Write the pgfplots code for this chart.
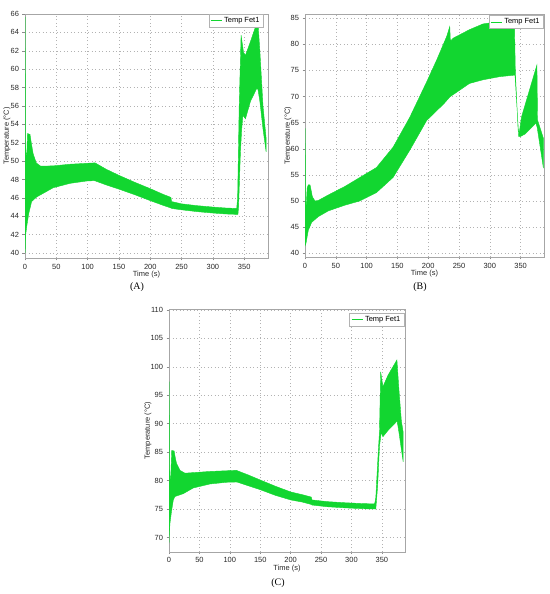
\documentclass[border=0pt]{standalone}
\usepackage{pgfplots}
\pgfplotsset{compat=1.18}
\usepackage{fontspec}
\setmainfont{Liberation Sans}
\newfontfamily\capfont{Liberation Serif}
\definecolor{fetgreen}{RGB}{18,214,48}
\pgfplotsset{
  fetstyle/.style={
    scale only axis,
    xmin=0, xmax=388,
    xtick={0,50,...,350},
    tick align=outside,
    major tick length=2.5bp,
    tick pos=left,
    axis line style={draw=black!35},
    every tick/.style={draw=black!45},
    grid=major,
    grid style={draw=black!30, dash pattern=on 0.7bp off 2.8bp},
    ticklabel style={font=\fontsize{7.5}{8}\selectfont, text=black!85},
    /pgf/number format/assume math mode=true,
    label style={font=\fontsize{7.5}{8}\selectfont, text=black!85},
    xlabel={Time (s)},
    ylabel={Temperature (°C)},
    legend style={draw=black!30, fill=white, font=\fontsize{7.5}{8}\selectfont,
      inner xsep=1.5bp, inner ysep=1bp, row sep=0pt, legend cell align=left, anchor=north east},
  }
}
\newcommand{\fettitle}[1]{\node[font=\fontsize{7.5}{8}\selectfont, text=black!85, inner sep=0pt] at (axis description cs:0.5,#1) {FET1};}
\begin{document}
\begin{tikzpicture}
\path (0,0) rectangle (550bp,594bp);
% ---------- (A) ----------
\begin{axis}[fetstyle,
  at={(25bp,336bp)}, anchor=south west,
  width=243bp, height=244bp,
  ymin=39.46, ymax=66,
  ytick={40,42,...,66},
  xlabel style={at={(axis description cs:0.5,-0.066)}, anchor=center},
  ylabel style={at={(axis description cs:-0.074,0.5)}, anchor=center},
  legend style={at={(axis description cs:0.98,0.999)}},
]
\addplot[draw=fetgreen, fill=fetgreen, line width=0.4pt, forget plot] coordinates {
(0,40) (0.3,65.7) (0.7,52) (1.5,50.5) (3,51) (4,53) (8,52.9) (10,52.0) (13,50.8) (18,49.8) (25,49.45) (45,49.48) (72,49.66) (110,49.8) (112,49.8) (130,49.1) (150,48.45) (175,47.7) (200,47.0) (220,46.4) (233,46.05) (234,45.6) (250,45.35) (275,45.15) (300,45.0) (320,44.9) (338,44.85) (339.5,46) (342,56) (345,63.7) (349,61.8) (352,61.5) (360,63.0) (370,65.0) (372,65.0) (375,62) (380,56) (385,52.5)
(385,51.0) (380,53.5) (375,56.5) (372,57.8) (370,57.9) (360,56.5) (352,54.6) (348,55.0) (346,53.5) (344,51) (341,45) (340,44.2) (320,44.25) (300,44.35) (275,44.5) (250,44.7) (234,44.85) (233,44.9) (220,45.2) (200,45.7) (175,46.35) (150,46.95) (130,47.4) (112,47.85) (110,47.87) (98,47.83) (72,47.58) (45,47.1) (18.6,46.1) (10.6,45.6) (6,44.3) (3,43) (1,41.95) (0.5,40.5)
} -- cycle;
\addlegendimage{legend image code/.code={\draw[fetgreen, line width=0.9pt] (0bp,0bp) -- (11bp,0bp);}}
\addlegendentry{Temp Fet1}
\fettitle{1.033}
\end{axis}
% ---------- (B) ----------
\begin{axis}[fetstyle,
  at={(305bp,337bp)}, anchor=south west,
  width=239bp, height=243bp,
  ymin=39.27, ymax=85.8,
  ytick={40,45,...,85},
  xlabel style={at={(axis description cs:0.5,-0.07)}, anchor=center},
  ylabel style={at={(axis description cs:-0.071,0.5)}, anchor=center},
  legend style={at={(axis description cs:0.997,0.994)}},
]
\addplot[draw=fetgreen, fill=fetgreen, line width=0.4pt, forget plot] coordinates {
(0,42) (0.3,63.9) (0.8,50) (2,49) (3.5,52.5) (5.4,53.1) (8.1,53.1) (9,52.6) (12,50.8) (16.2,50.0) (21.6,50.1) (37.9,51.15) (65,52.8) (89,54.5) (116,56.4) (143,60.3) (170,66.0) (197.5,72.8) (213.8,77.0) (230,81.5) (235,83.4) (236,80.6) (241,81.2) (267,82.8) (289,83.9) (316,84.35) (340,84.1) (341.5,74.5) (346,63.5) (348,63.2) (351.5,66.1) (376.5,76.05) (377.5,65.5) (387,62)
(387,56.3) (377,64.0) (375,64.9) (357,62.8) (349,62.3) (347,62.3) (341,74.0) (340.5,74.1) (316,73.8) (289,73.2) (267,72.5) (241,70.4) (236,70.0) (235,69.9) (224.6,68.5) (213.8,67.3) (197.5,65.4) (170,59.7) (143,54.5) (116,51.6) (89,50.0) (65,49.2) (37.9,48.1) (21.6,47.0) (10.8,45.9) (5.4,44.4) (1.6,41.9) (0.5,41.5)
} -- cycle;
\addlegendimage{legend image code/.code={\draw[fetgreen, line width=0.9pt] (0bp,0bp) -- (11bp,0bp);}}
\addlegendentry{Temp Fet1}
\fettitle{1.024}
\end{axis}
% ---------- (C) ----------
\begin{axis}[fetstyle,
  at={(169bp,42.3bp)}, anchor=south west,
  width=236bp, height=242.4bp,
  ymin=67.5, ymax=110.1,
  ytick={70,75,...,110},
  xlabel style={at={(axis description cs:0.5,-0.071)}, anchor=center},
  ylabel style={at={(axis description cs:-0.089,0.5)}, anchor=center},
  legend style={at={(axis description cs:0.996,0.983)}},
]
\addplot[draw=fetgreen, fill=fetgreen, line width=0.4pt, forget plot] coordinates {
(0,69) (0.3,97.4) (0.8,82) (1.6,80) (3,81) (4.5,85.3) (8.5,85.2) (10,84.2) (12.4,83.0) (18,81.8) (26.3,81.3) (40,81.4) (67,81.6) (111,81.8) (113,81.7) (130,81.0) (150,80.1) (175,79.0) (200,78.0) (220,77.5) (234,77.1) (235,76.6) (260,76.3) (290,76.1) (320,75.95) (338,75.9) (340,77) (344,85) (346,88.5) (348,99.1) (351.7,96.5) (360,98.5) (374.7,101.2) (378,96) (382,90.5) (385,88.5)
(385,83.3) (382,85.5) (378,88.5) (375,90.5) (373.6,90.3) (360,88.8) (351.7,87.7) (349,88.5) (346,86) (343,79) (340,75.0) (320,75.05) (290,75.2) (260,75.4) (235,75.7) (234,75.8) (220,76.2) (200,76.6) (175,77.4) (150,78.4) (130,79.1) (113,79.7) (111,79.75) (94.6,79.7) (67.3,79.4) (39.9,78.7) (23.5,77.7) (9.8,77.2) (7.1,76.6) (4,74.5) (1.6,72.5) (0.5,70.5)
} -- cycle;
\addlegendimage{legend image code/.code={\draw[fetgreen, line width=0.9pt] (0bp,0bp) -- (11bp,0bp);}}
\addlegendentry{Temp Fet1}
\fettitle{1.022}
\end{axis}
% captions
\node[font=\capfont\fontsize{10}{12}\selectfont] at (137bp,307bp) {(A)};
\node[font=\capfont\fontsize{10}{12}\selectfont] at (420bp,307bp) {(B)};
\node[font=\capfont\fontsize{10}{12}\selectfont] at (278bp,10.5bp) {(C)};
\end{tikzpicture}
\end{document}
